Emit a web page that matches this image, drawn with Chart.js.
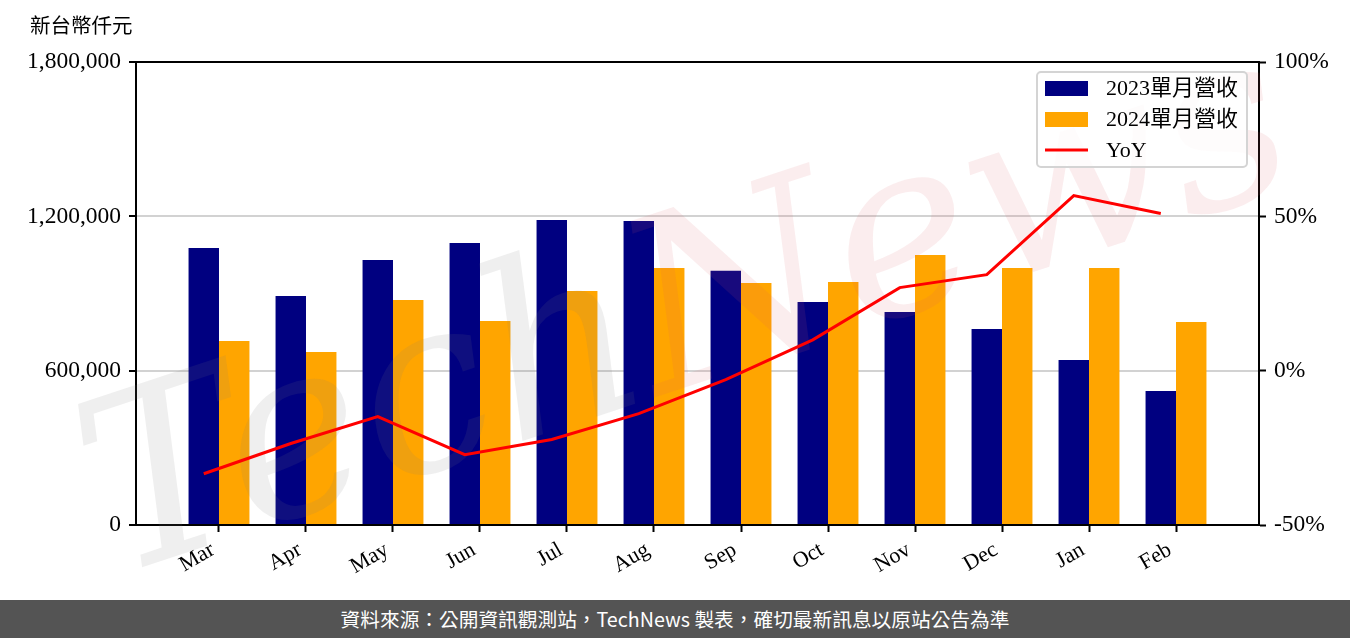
<!DOCTYPE html>
<html>
<head>
<meta charset="utf-8">
<script src="https://cdn.jsdelivr.net/npm/chart.js@4"></script>
<style>
  body { margin: 0; background: #fff; }
  #wrap { position: relative; width: 1350px; height: 600px; }
  #footer {
    width: 1350px; height: 38px; line-height: 38px;
    background: #545454; color: #fff; text-align: center;
    font-family: "Noto Sans CJK TC", "Noto Sans", sans-serif; font-size: 19.7px;
  }
</style>
</head>
<body>
<div id="wrap"><canvas id="revChart" width="1350" height="600"></canvas></div>
<div id="footer">資料來源：公開資訊觀測站，TechNews 製表，確切最新訊息以原站公告為準</div>
<script>
// values (新台幣仟元)
const months = ['Mar', 'Apr', 'May', 'Jun', 'Jul', 'Aug', 'Sep', 'Oct', 'Nov', 'Dec', 'Jan', 'Feb'];
const rev2023 = [1077000, 890000, 1030000, 1096000, 1186000, 1182000, 988000, 867000, 828000, 762000, 641000, 521000];
const rev2024 = [715000, 673000, 875000, 793000, 910000, 999000, 941000, 945000, 1050000, 999000, 999000, 789000];
const yoy = [-33.4, -23.6, -14.9, -27.2, -22.3, -13.9, -2.9, 10.0, 26.9, 31.1, 56.7, 50.9];
const yLeftTicks = [0, 600000, 1200000, 1800000];
const yRightTicks = [-50, 0, 50, 100];

const serif = '"Liberation Serif", "Noto Sans CJK TC", serif';
Chart.defaults.font.family = serif;
Chart.defaults.color = '#000';

const legendItems = [
    { label: '2023單月營收', color: '#000080', type: 'box' },
    { label: '2024單月營收', color: '#FFA500', type: 'box' },
    { label: 'YoY', color: '#FF0000', type: 'line' }
];

// extras: unit label, top spine, legend box, watermark
const decorations = {
    id: 'decorations',
    beforeDatasetDraw(chart, args) {
        if (args.meta.type !== 'line') return;
        const ctx = chart.ctx;
        ctx.save();
        ctx.translate(690, 320);
        ctx.rotate(-0.32);
        ctx.font = 'italic 240px "DejaVu Serif", serif';
        ctx.textBaseline = 'middle';
        ctx.fillStyle = 'rgba(120,120,120,0.12)';
        const w1 = ctx.measureText('Tech').width;
        const w2 = ctx.measureText('News').width;
        const x0 = -(w1 + w2) / 2;
        ctx.fillText('Tech', x0, 0);
        ctx.fillStyle = 'rgba(220,90,100,0.11)';
        ctx.fillText('News', x0 + w1, 0);
        ctx.restore();
    },
    afterDraw(chart) {
        const ctx = chart.ctx;
        const area = chart.chartArea;
        ctx.save();
        // top spine
        ctx.strokeStyle = '#000';
        ctx.lineWidth = 2;
        ctx.beginPath();
        ctx.moveTo(area.left, area.top);
        ctx.lineTo(area.right, area.top);
        ctx.stroke();

        // unit label
        ctx.fillStyle = '#000';
        ctx.font = '20.5px ' + serif;
        ctx.textBaseline = 'middle';
        ctx.fillText('新台幣仟元', 30, 28);

        // legend
        const bx = 1037, by = 72, bw = 210, bh = 95;
        ctx.fillStyle = 'rgba(255,255,255,0.85)';
        ctx.strokeStyle = '#d4d4d4';
        ctx.lineWidth = 2;
        ctx.beginPath();
        ctx.roundRect(bx, by, bw, bh, 4);
        ctx.fill();
        ctx.stroke();
        ctx.font = '22px ' + serif;
        legendItems.forEach((item, i) => {
            const cy = by + 16 + i * 31;
            if (item.type === 'box') {
                ctx.fillStyle = item.color;
                ctx.fillRect(bx + 8, cy - 7, 43, 15);
            } else {
                ctx.strokeStyle = item.color;
                ctx.lineWidth = 3;
                ctx.beginPath();
                ctx.moveTo(bx + 8, cy);
                ctx.lineTo(bx + 51, cy);
                ctx.stroke();
            }
            ctx.fillStyle = '#000';
            ctx.fillText(item.label, bx + 69, cy + 1);
        });
        ctx.restore();
    }
};

const ctx = document.getElementById('revChart').getContext('2d');
new Chart(ctx, {
    data: {
        datasets: [
            {
                type: 'bar',
                label: '2023單月營收',
                data: rev2023.map((v, i) => ({ x: i, y: v })),
                backgroundColor: '#000080',
                yAxisID: 'y',
                order: 2
            },
            {
                type: 'bar',
                label: '2024單月營收',
                data: rev2024.map((v, i) => ({ x: i, y: v })),
                backgroundColor: '#FFA500',
                yAxisID: 'y',
                order: 2
            },
            {
                type: 'line',
                label: 'YoY',
                // line points sit over the 2023 bars
                data: yoy.map((v, i) => ({ x: i - 0.175, y: v })),
                borderColor: '#FF0000',
                borderWidth: 3,
                pointRadius: 0,
                tension: 0,
                yAxisID: 'y1',
                order: 1
            }
        ]
    },
    options: {
        responsive: false,
        animation: false,
        layout: { padding: { top: 62, left: 0, right: 0, bottom: 0 } },
        plugins: {
            legend: { display: false },
            tooltip: { enabled: false }
        },
        datasets: {
            bar: { categoryPercentage: 0.7, barPercentage: 1.0 }
        },
        scales: {
            x: {
                type: 'linear',
                offset: false,
                min: -0.954,
                max: 11.954,
                afterBuildTicks: axis => { axis.ticks = months.map((m, i) => ({ value: i })); },
                afterFit: axis => { axis.height = 75; },
                ticks: {
                    callback: v => months[v],
                    minRotation: 30,
                    maxRotation: 30,
                    font: { size: 22 },
                    padding: 5,
                    labelOffset: -6
                },
                grid: { offset: false, drawOnChartArea: false, tickLength: 7, tickWidth: 2, tickColor: '#000' },
                border: { color: '#000', width: 2 }
            },
            y: {
                position: 'left',
                min: 0,
                max: 1800000,
                afterBuildTicks: axis => { axis.ticks = yLeftTicks.map(v => ({ value: v })); },
                afterFit: axis => { axis.width = 136; },
                ticks: {
                    callback: v => v.toLocaleString('en-US'),
                    font: { size: 23.5 },
                    padding: 8
                },
                grid: {
                    color: c => (c.tick && c.tick.value > 0 && c.tick.value < 1800000) ? '#d2d2d2' : 'rgba(0,0,0,0)',
                    lineWidth: 2,
                    tickLength: 7,
                    tickWidth: 2,
                    tickColor: '#000'
                },
                border: { color: '#000', width: 2 }
            },
            y1: {
                position: 'right',
                min: -50,
                max: 100,
                afterBuildTicks: axis => { axis.ticks = yRightTicks.map(v => ({ value: v })); },
                afterFit: axis => { axis.width = 91; },
                ticks: {
                    callback: v => v + '%',
                    font: { size: 23.5 },
                    padding: 8
                },
                grid: { drawOnChartArea: false, tickLength: 7, tickWidth: 2, tickColor: '#000' },
                border: { color: '#000', width: 2 }
            }
        }
    },
    plugins: [decorations]
});
</script>
</body>
</html>
